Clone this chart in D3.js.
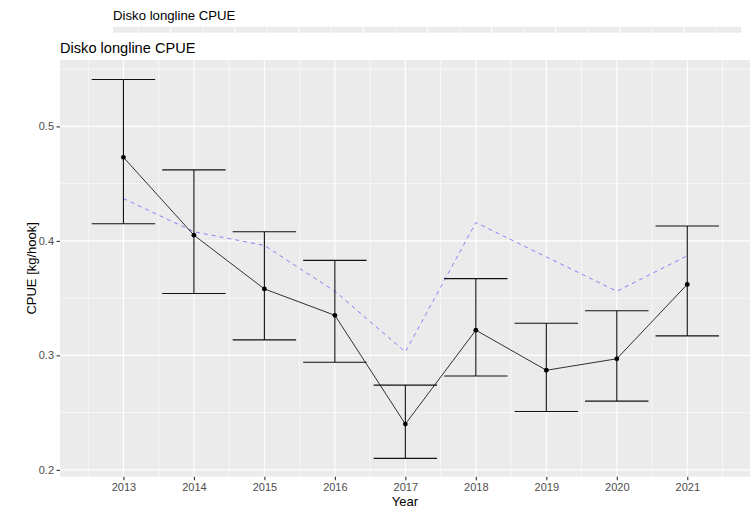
<!DOCTYPE html>
<html>
<head>
<meta charset="utf-8">
<script src="https://cdn.jsdelivr.net/npm/d3@7"></script>
<style>
  body { margin: 0; background: #fff; }
  svg text { font-family: "Liberation Sans", Arial, sans-serif; }
</style>
</head>
<body>
<div id="chart"></div>
<script>
// Disko longline CPUE per year
var years = [2013, 2014, 2015, 2016, 2017, 2018, 2019, 2020, 2021];
var cpue  = [0.473, 0.405, 0.358, 0.335, 0.240, 0.322, 0.287, 0.297, 0.362];
var upper = [0.541, 0.462, 0.408, 0.383, 0.274, 0.367, 0.328, 0.339, 0.413];
var lower = [0.415, 0.354, 0.3135, 0.294, 0.210, 0.282, 0.251, 0.260, 0.317];
// dashed blue reference series
var refLine = [0.437, 0.408, 0.396, 0.356, 0.303, 0.416, 0.386, 0.356, 0.387];
var yTicks = [0.2, 0.3, 0.4, 0.5];
var yMinor = [0.25, 0.35, 0.45, 0.55];

var W = 756, H = 508;
var panel = { left: 60, right: 750, top: 60, bottom: 476.7 };

var svg = d3.select("#chart").append("svg")
  .attr("width", W)
  .attr("height", H);

var x = d3.scaleLinear()
  .domain([2012.1, 2021.89])
  .range([panel.left, panel.right]);

var y = d3.scaleLinear()
  .domain([0.194, 0.558])
  .range([panel.bottom, panel.top]);

var xMinor = years.map(function(d){ return d - 0.5; }).concat([2021.5]);

// the cut-off panel of the plot above (scaled copy, only its bottom strip shows)
var x2 = d3.scaleLinear()
  .domain(x.domain())
  .range([113, 741]);
svg.append("text")
  .attr("x", 113).attr("y", 19.5)
  .attr("font-size", "13.2px")
  .attr("fill", "#000")
  .text("Disko longline CPUE");
svg.append("rect")
  .attr("x", 113).attr("y", 26.7)
  .attr("width", 628).attr("height", 6)
  .attr("fill", "#ebebeb");
svg.append("g").selectAll("line")
  .data(years.concat(xMinor))
  .enter().append("line")
  .attr("x1", d => x2(d)).attr("x2", d => x2(d))
  .attr("y1", 26.7).attr("y2", 32.7)
  .attr("stroke", "#fff")
  .attr("stroke-width", d => Number.isInteger(d) ? 1 : 0.6);

// title
svg.append("text")
  .attr("x", 60).attr("y", 52.5)
  .attr("font-size", "14.6px")
  .attr("fill", "#000")
  .text("Disko longline CPUE");

// panel background
svg.append("rect")
  .attr("x", panel.left).attr("y", panel.top)
  .attr("width", panel.right - panel.left)
  .attr("height", panel.bottom - panel.top)
  .attr("fill", "#ebebeb");

var grid = svg.append("g");
grid.selectAll(".ymin").data(yMinor).enter().append("line")
  .attr("x1", panel.left).attr("x2", panel.right)
  .attr("y1", d => y(d)).attr("y2", d => y(d))
  .attr("stroke", "#fff").attr("stroke-width", 0.6);
grid.selectAll(".xmin").data(xMinor).enter().append("line")
  .attr("y1", panel.top).attr("y2", panel.bottom)
  .attr("x1", d => x(d)).attr("x2", d => x(d))
  .attr("stroke", "#fff").attr("stroke-width", 0.6);
grid.selectAll(".ymaj").data(yTicks).enter().append("line")
  .attr("x1", panel.left).attr("x2", panel.right)
  .attr("y1", d => y(d)).attr("y2", d => y(d))
  .attr("stroke", "#fff").attr("stroke-width", 1.1);
grid.selectAll(".xmaj").data(years).enter().append("line")
  .attr("y1", panel.top).attr("y2", panel.bottom)
  .attr("x1", d => x(d)).attr("x2", d => x(d))
  .attr("stroke", "#fff").attr("stroke-width", 1.1);

var data = years.map(function(yr, i){
  return { year: yr, cpue: cpue[i], lo: lower[i], hi: upper[i], ref: refLine[i] };
});

// error bars
var eb = svg.append("g").attr("stroke", "#111").attr("stroke-width", 1.1);
var capW = 0.45;
eb.selectAll(".v").data(data).enter().append("line")
  .attr("x1", d => x(d.year)).attr("x2", d => x(d.year))
  .attr("y1", d => y(d.lo)).attr("y2", d => y(d.hi));
eb.selectAll(".t").data(data).enter().append("line")
  .attr("x1", d => x(d.year - capW)).attr("x2", d => x(d.year + capW))
  .attr("y1", d => y(d.hi)).attr("y2", d => y(d.hi));
eb.selectAll(".b").data(data).enter().append("line")
  .attr("x1", d => x(d.year - capW)).attr("x2", d => x(d.year + capW))
  .attr("y1", d => y(d.lo)).attr("y2", d => y(d.lo));

// dashed reference line
svg.append("path")
  .datum(data)
  .attr("fill", "none")
  .attr("stroke", "#0000ff")
  .attr("stroke-opacity", 0.45)
  .attr("stroke-width", 1)
  .attr("stroke-dasharray", "4,4")
  .attr("d", d3.line().x(d => x(d.year)).y(d => y(d.ref)));

// cpue line + points
svg.append("path")
  .datum(data)
  .attr("fill", "none")
  .attr("stroke", "#000")
  .attr("stroke-width", 0.8)
  .attr("d", d3.line().x(d => x(d.year)).y(d => y(d.cpue)));
svg.append("g").selectAll("circle").data(data).enter().append("circle")
  .attr("cx", d => x(d.year)).attr("cy", d => y(d.cpue))
  .attr("r", 2.4).attr("fill", "#000");

// axes
var xAxis = d3.axisBottom(x).tickValues(years).tickFormat(d3.format("d"))
  .tickSize(3.5).tickPadding(3);
var gx = svg.append("g")
  .attr("transform", "translate(0," + panel.bottom + ")")
  .call(xAxis);
var yAxis = d3.axisLeft(y).tickValues(yTicks).tickFormat(d3.format(".1f"))
  .tickSize(3.5).tickPadding(2.5);
var gy = svg.append("g")
  .attr("transform", "translate(" + panel.left + ",0)")
  .call(yAxis);
[gx, gy].forEach(function(g){
  g.select(".domain").remove();
  g.selectAll(".tick line").attr("stroke", "#333").attr("stroke-width", 1.1);
  g.selectAll(".tick text").attr("fill", "#4d4d4d").attr("font-size", "11px")
    .attr("font-family", "Liberation Sans, Arial, sans-serif");
});

// axis titles
svg.append("text")
  .attr("x", (panel.left + panel.right) / 2).attr("y", 506)
  .attr("text-anchor", "middle")
  .attr("font-size", "13px")
  .text("Year");
svg.append("text")
  .attr("transform", "translate(36," + ((panel.top + panel.bottom) / 2) + ") rotate(-90)")
  .attr("text-anchor", "middle")
  .attr("font-size", "13px")
  .text("CPUE [kg/hook]");
</script>
</body>
</html>
